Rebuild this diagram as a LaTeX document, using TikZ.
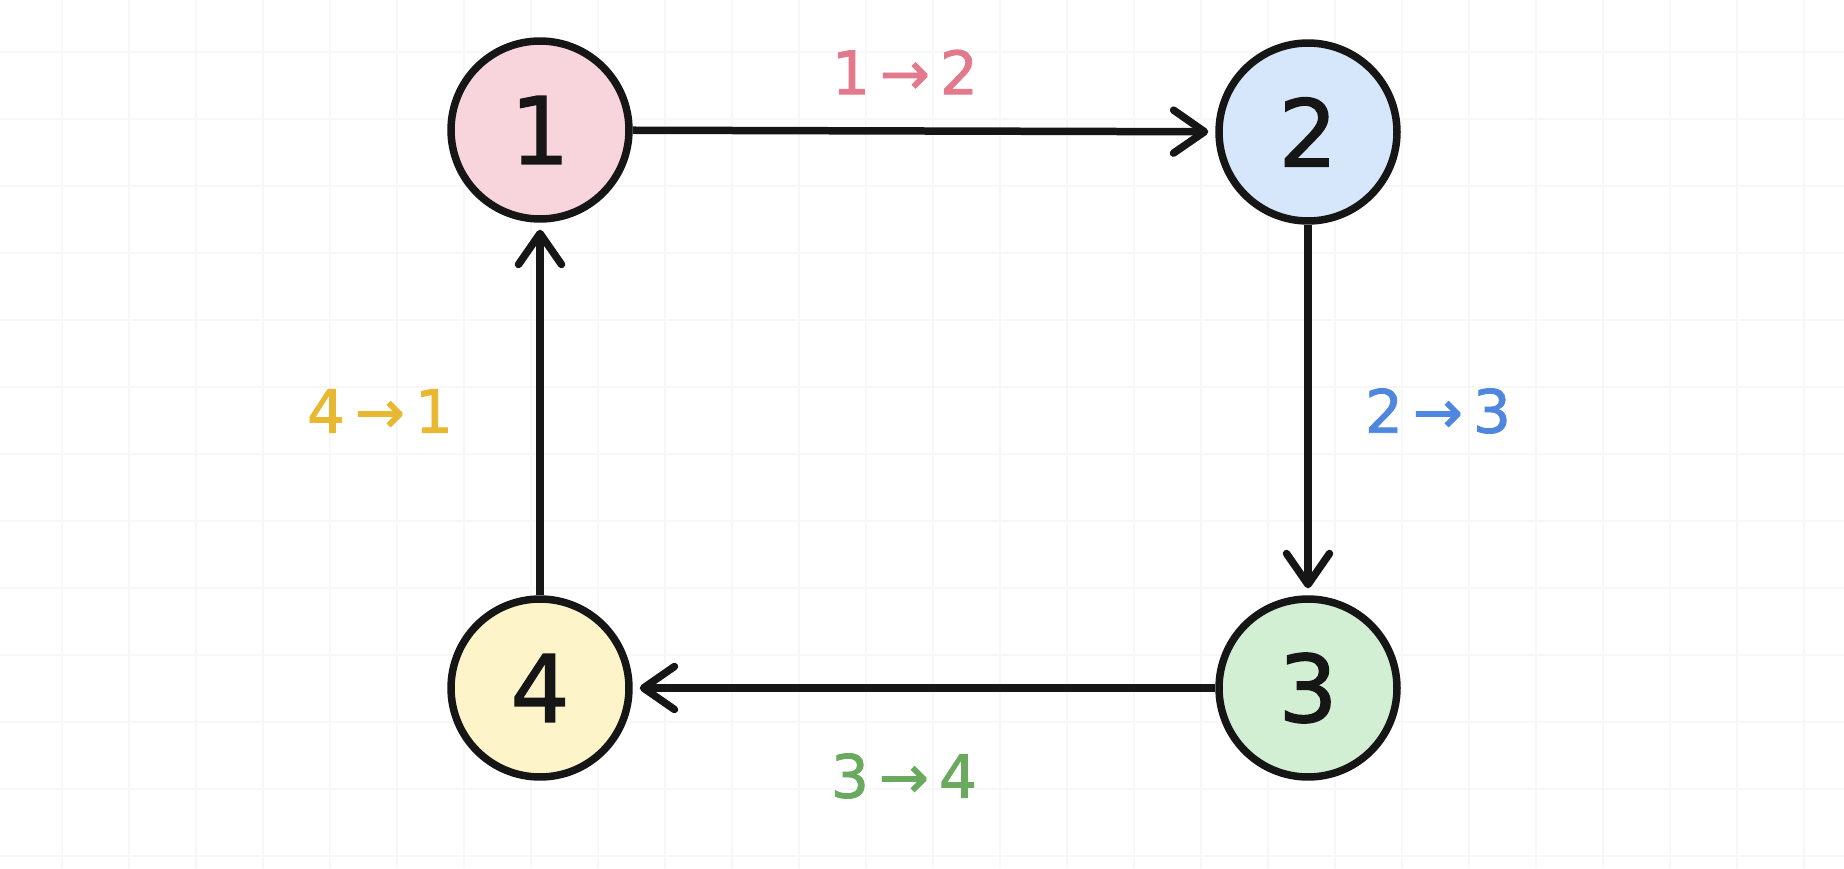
\documentclass[tikz,border=0pt]{standalone}
\usepackage{fontspec}
\setmainfont{DejaVu Sans}
\newfontfamily\markfont[FakeBold=1.4]{DejaVu Sans}
\usetikzlibrary{arrows.meta,positioning}

\definecolor{inkblack}{HTML}{161616}
\definecolor{gridgray}{HTML}{F7F7F7}
\definecolor{pinkfill}{HTML}{F8D5DD}
\definecolor{bluefill}{HTML}{D6E6FB}
\definecolor{greenfill}{HTML}{D2EFD4}
\definecolor{yellowfill}{HTML}{FDF5C9}
\definecolor{pinktext}{HTML}{E3798C}
\definecolor{bluetext}{HTML}{4F86E0}
\definecolor{greentext}{HTML}{6AAA5E}
\definecolor{yellowtext}{HTML}{E8B830}

\tikzset{
  state/.style={circle, draw=inkblack, line width=0.15cm, minimum size=3.56cm,
    inner sep=0pt, text=inkblack, font=\markfont\fontsize{53}{60}\selectfont},
  conn/.style={draw=inkblack, line width=0.15cm,
    -{Straight Barb[length=0.62cm,width=0.86cm,round]}, shorten >=0.14cm},
  steplabel/.style={font=\markfont\fontsize{34}{40}\selectfont}
}

\begin{document}
\begin{tikzpicture}[x=0.02cm,y=-0.02cm]
    \useasboundingbox[fill=white] (0,0) rectangle (1844,868);
    % faint grid
    \foreach \x in {62,129,...,1844}
        \draw[gridgray, line width=0.025cm] (\x,0) -- (\x,868);
    \foreach \y in {52,119,...,868}
        \draw[gridgray, line width=0.025cm] (0,\y) -- (1844,\y);

    \node[state, fill=pinkfill] (n1) at (540,130) {1};
    \node[state, fill=bluefill] (n2) at (1308,132) {2};
    \node[state, fill=greenfill] (n3) at (1308,688) {3};
    \node[state, fill=yellowfill] (n4) at (540,688) {4};

    \draw[conn] (n1) -- (n2);
    \draw[conn] (n2) -- (n3);
    \draw[conn] (n3) -- (n4);
    \draw[conn] (n4) -- (n1);

    \node[steplabel, text=pinktext] (l12) at (905,72) {1\,→\,2};
    \node[steplabel, text=bluetext] (l23) at (1438,411) {2\,→\,3};
    \node[steplabel, text=greentext] (l34) at (904,776) {3\,→\,4};
    \node[steplabel, text=yellowtext] (l41) at (380,411) {4\,→\,1};
\end{tikzpicture}
\end{document}
